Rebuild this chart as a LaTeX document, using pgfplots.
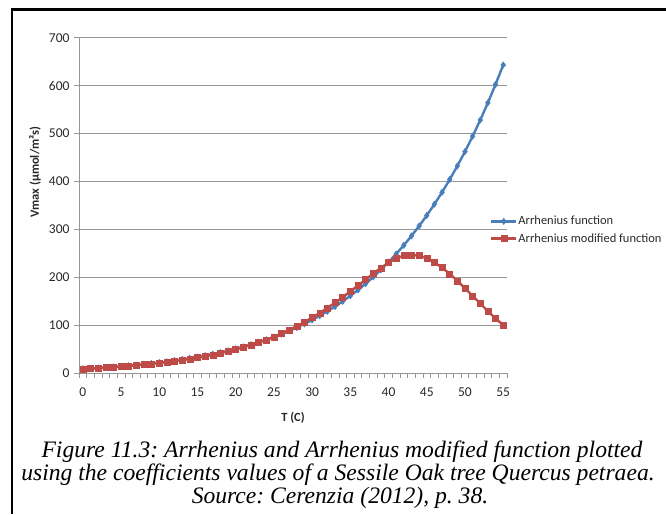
\documentclass[border=0pt]{standalone}
\usepackage{fontspec}
\setmainfont{Carlito}
\newfontfamily\capfont{Liberation Serif}
\usepackage{pgfplots}
\usepackage{pgfplotstable}
\pgfplotsset{compat=1.18}
\definecolor{eblue}{RGB}{74,126,187}
\definecolor{ered}{RGB}{190,75,72}
\definecolor{egrid}{RGB}{150,150,150}
\definecolor{etext}{RGB}{40,40,40}

\pgfplotstableread{
T V
0 8.8
1 9.6
2 10.6
3 11.6
4 12.7
5 13.9
6 15.2
7 16.6
8 18.2
9 19.9
10 21.7
11 23.6
12 25.8
13 28.1
14 30.6
15 33.3
16 36.2
17 39.4
18 42.8
19 46.4
20 50.4
21 54.6
22 59.2
23 64.2
24 69.5
25 75.2
26 81.3
27 87.9
28 95.0
29 102.6
30 110.7
31 119.5
32 128.8
33 138.8
34 149.6
35 161.1
36 173.3
37 186.5
38 200.5
39 215.4
40 231.5
41 248.5
42 266.7
43 286.1
44 306.9
45 328.9
46 352.4
47 377.3
48 403.9
49 432.2
50 462.2
51 494.2
52 528.1
53 564.2
54 602.4
55 643.0
}\arrhenius

\pgfplotstableread{
T V
0 8.5
1 9.3
2 10.2
3 11.2
4 12.3
5 13.5
6 14.7
7 16.1
8 17.6
9 19.2
10 21.0
11 22.9
12 24.9
13 27.1
14 29.5
15 32.1
16 35.0
17 38.1
18 41.5
19 45.2
20 49.2
21 53.6
22 58.4
23 63.7
24 69.4
25 75.6
26 82.4
27 89.8
28 97.8
29 106.4
30 115.6
31 125.4
32 135.8
33 146.8
34 158.4
35 170.4
36 182.6
37 195.0
38 207.5
39 219.5
40 230.5
41 239.5
42 245.0
43 246.5
44 245.0
45 240.0
46 231.0
47 220.0
48 207.0
49 192.5
50 177.0
51 161.0
52 145.0
53 129.0
54 114.0
55 100.0
}\modified

\begin{document}
\frenchspacing
\begin{tikzpicture}
\path[use as bounding box] (0pt,0pt) rectangle (666pt,514pt);
\draw[line width=2.6pt] (10.7pt,504.5pt) -- (666pt,504.5pt);
\draw[line width=2.6pt] (12pt,505.8pt) -- (12pt,0pt);
\begin{axis}[
  at={(79pt,141pt)}, anchor=south west,
  scale only axis, width=428pt, height=335.3pt,
  xmin=-0.5, xmax=55.5, ymin=0, ymax=700,
  axis x line*=bottom, axis y line*=left,
  axis line style={-, draw=egrid, line width=0.8pt},
  xtick={0,5,...,55}, ytick={0,100,...,700},
  major tick length=0pt,
  extra x ticks={-0.5,0.5,...,55.5}, extra x tick labels={},
  extra x tick style={major tick length=5pt, tick align=outside, grid=none, tick style={draw=egrid, line width=0.6pt}},
  extra y ticks={0,100,...,700}, extra y tick labels={},
  extra y tick style={major tick length=5pt, tick align=outside, grid=none, tick style={draw=egrid, line width=0.8pt}},
  ymajorgrids, major grid style={draw=egrid, line width=0.8pt},
  /pgf/number format/assume math mode=true,
  tick label style={font=\fontsize{13.5}{16}\selectfont, text=etext},
  xticklabel style={yshift=-11pt},
  yticklabel style={xshift=-6pt},
  xlabel={T (C)},
  ylabel={Vmax (µmol/m²s)},
  every axis x label/.style={at={(axis cs:27.5,0)}, anchor=center, yshift=-45pt, font=\bfseries\fontsize{12.5}{15}\selectfont, text=etext},
  every axis y label/.style={at={(axis description cs:-0.103,0.5995)}, anchor=center, rotate=90, font=\bfseries\fontsize{12.5}{15}\selectfont, text=etext},
  legend style={draw=none, fill=none, inner sep=0pt, at={(axis description cs:0.960,0.4265)}, anchor=west, font=\fontsize{12.5}{14}\selectfont, text=etext, nodes={inner sep=1pt}, row sep=5pt},
  legend cell align=left,
  legend image code/.code={\draw[mark repeat=2,mark phase=2,#1] plot coordinates {(0pt,0pt) (12.5pt,0pt) (25pt,0pt)};},
]
\addplot[eblue, line width=2.4pt, mark=diamond*, mark size=3.2pt, mark options={solid, line width=0.4pt}] table[x=T,y=V] {\arrhenius};
\addlegendentry{Arrhenius function}
\addplot[ered, line width=2.4pt, mark=square*, mark size=3.0pt, mark options={solid, line width=0.4pt}] table[x=T,y=V] {\modified};
\addlegendentry{Arrhenius modified function}
\end{axis}
\node[anchor=base, font=\capfont\itshape\fontsize{23.6}{23}\selectfont] at (342pt,57pt) {Figure 11.3: Arrhenius and Arrhenius modified function plotted};
\node[anchor=base, font=\capfont\itshape\fontsize{23.6}{23}\selectfont] at (338pt,34pt) {using the coefficients values of a Sessile Oak tree Quercus petraea.};
\node[anchor=base, font=\capfont\itshape\fontsize{23.6}{23}\selectfont] at (340pt,11pt) {Source: Cerenzia (2012), p. 38.};
\end{tikzpicture}
\end{document}
